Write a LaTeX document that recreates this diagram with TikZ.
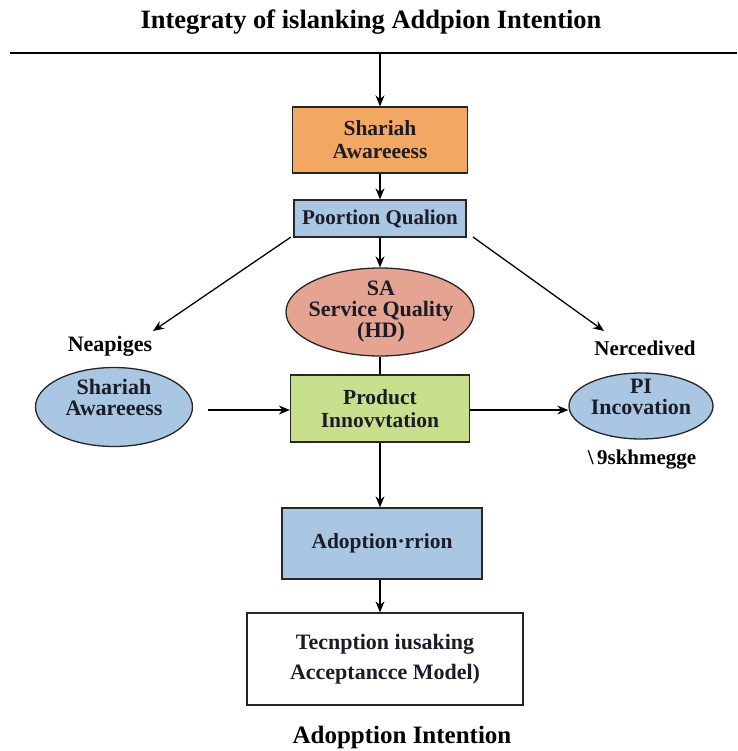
\documentclass[tikz,border=0pt]{standalone}
\usepackage{fontspec}
\setmainfont{Liberation Serif}
\usetikzlibrary{arrows.meta,shapes.geometric}
\definecolor{orangefill}{HTML}{F2A862}
\definecolor{bluefill}{HTML}{A9C6E3}
\definecolor{salmonfill}{HTML}{E4A491}
\definecolor{greenfill}{HTML}{C8DF8E}
\definecolor{inktext}{HTML}{1C1C28}
\tikzset{
  box/.style={draw=black!85, line width=1.3pt, inner sep=0pt, align=center, font=\bfseries\fontsize{21.5}{23}\selectfont, text=inktext},
  oval/.style={ellipse, draw=black!85, line width=1.3pt, inner sep=0pt},
  ovaltext/.style={inner sep=0pt, align=center, font=\bfseries\fontsize{22}{21}\selectfont, text=inktext},
  lbl/.style={inner sep=0pt, align=center, font=\bfseries\fontsize{21}{23}\selectfont},
  conn/.style={line width=1.3pt, -{Stealth[length=11pt,width=9pt]}},
}
\begin{document}
\begin{tikzpicture}[x=1pt,y=-1pt]
\useasboundingbox (0,0) rectangle (737,751);
% title
\node[lbl, font=\bfseries\fontsize{26.5}{28}\selectfont] (title) at (371,22) {Integraty of islanking Addpion Intention};
\coordinate (ll) at (10,53);
\coordinate (lr) at (737,53);
\draw[line width=1.3pt] (ll) -- (lr);
\coordinate (top) at (380,53);
% nodes
\node[box, fill=orangefill, minimum width=175pt, minimum height=66pt] (sa) at (380,140) {Shariah\\Awareeess};
\node[box, fill=bluefill, minimum width=172pt, minimum height=37pt, font=\bfseries\fontsize{21}{23}\selectfont] (pq) at (380,218.5) {Poortion Qualion};
\node[oval, fill=salmonfill, minimum width=188pt, minimum height=88pt] (sq) at (380,312) {};
\node[ovaltext] (sqt) at (381,312) {SA\\Service Quality\\(HD)};
\node[box, fill=greenfill, minimum width=179pt, minimum height=67pt] (pi) at (380,408.5) {Product\\Innovvtation};
\node[oval, fill=bluefill, minimum width=157pt, minimum height=79pt] (lsa) at (114,407) {};
\node[ovaltext] (lsat) at (114,397) {Shariah\\Awareeess};
\node[oval, fill=bluefill, minimum width=144pt, minimum height=66pt] (rpi) at (641,406) {};
\node[ovaltext] (rpit) at (641,397) {PI\\Incovation};
\node[box, fill=bluefill, minimum width=200pt, minimum height=71pt] (ad) at (382,543.5) {Adoption·rrion};
\node[box, fill=white, minimum width=276pt, minimum height=92pt, font=\bfseries\fontsize{22}{30}\selectfont] (tam) at (385,659) {Tecnption iusaking\\Acceptancce Model)};
% labels
\node[lbl, font=\bfseries\fontsize{22}{23}\selectfont] (nea) at (110,346) {Neapiges};
\node[lbl] (ner) at (645,348) {Nercedived};
\node[lbl] (ysk) at (642,460) {\textbackslash\,9skhmegge};
\node[lbl, font=\bfseries\fontsize{25}{27}\selectfont] (ai) at (402,737) {Adopption Intention};
% free ends
\coordinate (lstart) at (291,237);
\coordinate (lend) at (153,331);
\coordinate (rstart) at (473,237);
\coordinate (rend) at (604,331);
\coordinate (hstart) at (208,410);
% connectors
\draw[conn] (top) -- (sa.north);
\draw[conn] (sa.south) -- (sa.south |- pq.north);
\draw[conn] (pq.south) -- (sq.north);
\draw[conn] (lstart) -- (lend);
\draw[conn] (rstart) -- (rend);
\draw[line width=1.3pt] (sq.south) -- (pi.north);
\draw[conn] (hstart) -- (hstart -| pi.west);
\draw[conn] (pi.east |- hstart) -- (rpi.west |- hstart);
\draw[conn] (pi.south) -- (pi.south |- ad.north);
\draw[conn] (pi.south |- ad.south) -- (pi.south |- tam.north);
\end{tikzpicture}
\end{document}
